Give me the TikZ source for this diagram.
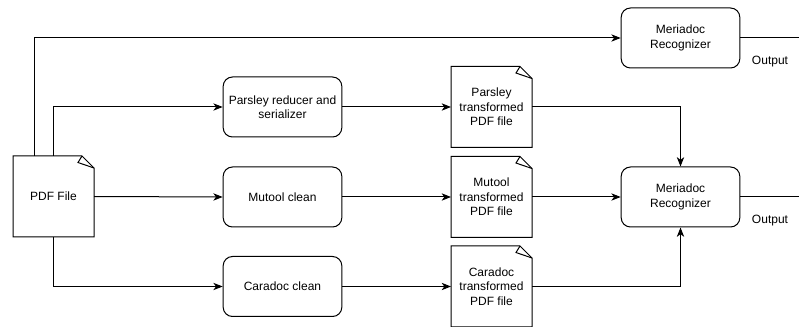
\documentclass[tikz,border=0pt]{standalone}
\usepackage{fontspec}
\setmainfont{Liberation Sans}
\usepackage{xcolor}
\usetikzlibrary{arrows.meta}

\tikzset{
  proc/.style={draw, rounded corners=7pt, minimum width=89pt, minimum height=45pt, align=center, inner sep=1pt},
  docnode/.style={minimum width=60pt, minimum height=60pt, align=center, inner sep=1pt},
  flow/.style={-{Stealth[length=7pt,width=5.5pt,inset=2pt]}},
}

% outline of a page with its top right corner folded over
% (y runs downwards in the picture, so a positive yshift goes down)
\newcommand{\docoutline}[1]{%
  \draw (#1.north west) -- ([xshift=-9pt]#1.north east) -- ([yshift=9pt]#1.north east) -- (#1.south east) -- (#1.south west) -- cycle;
  \draw ([xshift=-9pt]#1.north east) -- ([xshift=-12pt,yshift=4.9pt]#1.north east) -- ([yshift=9pt]#1.north east);
}

\begin{document}
\begin{tikzpicture}[x=0.75pt,y=0.75pt,yscale=-1,xscale=1,line width=0.75pt,font=\fontsize{9}{10.8}\selectfont]
\useasboundingbox (0,0) rectangle (799,327);

%Input document
\node [docnode] (pdf) at (53.5,196.5) {PDF File};
\docoutline{pdf}

%Processing steps
\node [proc] (parsley) at (282.5,107) {Parsley reducer and\\serializer};
\node [proc] (mutool) at (282.5,197) {Mutool clean};
\node [proc] (caradoc) at (282.5,286.5) {Caradoc clean};

%Transformed documents
\node [docnode] (parsleydoc) at (491.5,107) {Parsley\\transformed\\PDF file};
\docoutline{parsleydoc}
\node [docnode] (mutooldoc) at (491.5,197) {Mutool\\transformed\\PDF file};
\docoutline{mutooldoc}
\node [docnode] (caradocdoc) at (491.5,286.5) {Caradoc\\transformed\\PDF file};
\docoutline{caradocdoc}

%Recognizers
\node [proc] (merdirect) at (680.5,38) {Meriadoc\\Recognizer};
\node [proc] (mermulti) at (680.5,197) {Meriadoc\\Recognizer};

%Outputs
\coordinate (outdirect) at (799,38);
\coordinate (outmulti) at (799,197);
\node (outlbl1) at (770,62) {Output};
\node (outlbl2) at (770,221) {Output};

%Connectors
\draw [flow] ([xshift=-14.6pt]pdf.north) |- (merdirect.west);
\draw [flow] (pdf.north) |- (parsley.west);
\draw [flow] (pdf.east) -- (mutool.west);
\draw [flow] (pdf.south) |- (caradoc.west);

\draw [flow] (parsley.east) -- (parsleydoc.west);
\draw [flow] (mutool.east) -- (mutooldoc.west);
\draw [flow] (caradoc.east) -- (caradocdoc.west);

\draw [flow] (parsleydoc.east) -| (mermulti.north);
\draw [flow] (mutooldoc.east) -- (mermulti.west);
\draw [flow] (caradocdoc.east) -| (mermulti.south);

\draw (merdirect.east) -- (outdirect);
\draw (mermulti.east) -- (outmulti);

\end{tikzpicture}
\end{document}
